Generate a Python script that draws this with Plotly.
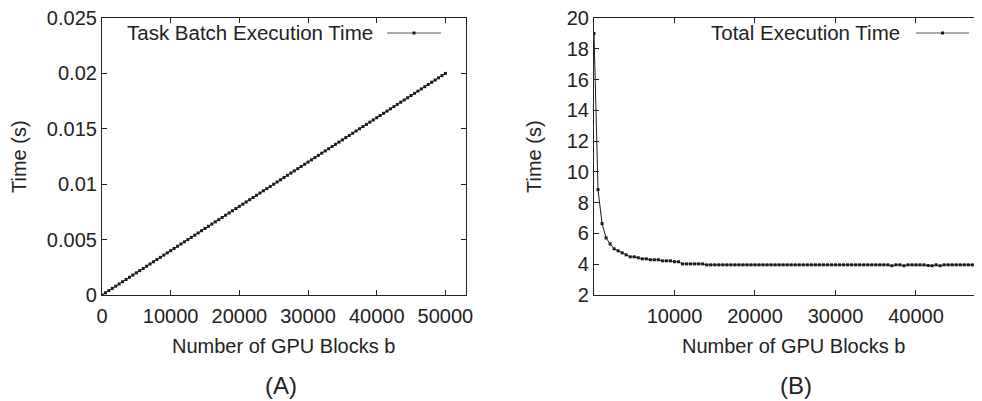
import plotly.graph_objects as go

# browser page has an 8px body margin; work in screen pixels and convert
OFF = 8
W, H = 982 - OFF, 401 - OFF

# ---------------- data ----------------
# Panel A: task batch execution time vs number of GPU blocks
A_BLOCKS = list(range(0, 50001, 500))
A_TIME = [
    0.0000, 0.0002, 0.0004, 0.0006, 0.0008, 0.0010, 0.0012, 0.0014, 0.0016, 0.0018,
    0.0020, 0.0022, 0.0024, 0.0026, 0.0028, 0.0030, 0.0032, 0.0034, 0.0036, 0.0038,
    0.0040, 0.0042, 0.0044, 0.0046, 0.0048, 0.0050, 0.0052, 0.0054, 0.0056, 0.0058,
    0.0060, 0.0062, 0.0064, 0.0066, 0.0068, 0.0070, 0.0072, 0.0074, 0.0076, 0.0078,
    0.0080, 0.0082, 0.0084, 0.0086, 0.0088, 0.0090, 0.0092, 0.0094, 0.0096, 0.0098,
    0.0100, 0.0102, 0.0104, 0.0106, 0.0108, 0.0110, 0.0112, 0.0114, 0.0116, 0.0118,
    0.0120, 0.0122, 0.0124, 0.0126, 0.0128, 0.0130, 0.0132, 0.0134, 0.0136, 0.0138,
    0.0140, 0.0142, 0.0144, 0.0146, 0.0148, 0.0150, 0.0152, 0.0154, 0.0156, 0.0158,
    0.0160, 0.0162, 0.0164, 0.0166, 0.0168, 0.0170, 0.0172, 0.0174, 0.0176, 0.0178,
    0.0180, 0.0182, 0.0184, 0.0186, 0.0188, 0.0190, 0.0192, 0.0194, 0.0196, 0.0198,
    0.0200,
]

# Panel B: total execution time vs number of GPU blocks
B_BLOCKS = [1] + list(range(500, 48001, 500))
B_TIME = [
    19.00, 8.85, 6.64, 5.71, 5.32, 5.00, 4.87, 4.74, 4.61, 4.48,
    4.48, 4.42, 4.35, 4.35, 4.29, 4.29, 4.29, 4.22, 4.22, 4.22,
    4.16, 4.16, 4.02, 4.02, 4.02, 4.02, 4.02, 4.02, 3.96, 3.96,
    3.96, 3.96, 3.96, 3.96, 3.96, 3.96, 3.96, 3.96, 3.96, 3.96,
    3.96, 3.96, 3.96, 3.96, 3.96, 3.96, 3.96, 3.96, 3.96, 3.96,
    3.96, 3.96, 3.96, 3.96, 3.96, 3.96, 3.96, 3.96, 3.96, 3.96,
    3.96, 3.96, 3.96, 3.96, 3.96, 3.96, 3.96, 3.96, 3.96, 3.96,
    3.96, 3.96, 3.96, 3.96, 3.90, 3.96, 3.96, 3.90, 3.96, 3.96,
    3.96, 3.96, 3.96, 3.92, 3.90, 3.96, 3.90, 3.96, 3.96, 3.96,
    3.96, 3.96, 3.96, 3.96, 3.96, 3.96, 3.96,
]

A_XTICKS = [0, 10000, 20000, 30000, 40000, 50000]
A_YTICKS = [0, 0.005, 0.01, 0.015, 0.02, 0.025]
A_YTICKTEXT = ["0", "0.005", "0.01", "0.015", "0.02", "0.025"]
B_XTICKS = [10000, 20000, 30000, 40000]
B_YTICKS = [2, 4, 6, 8, 10, 12, 14, 16, 18, 20]

# ---------------- style ----------------
FONT = "Liberation Sans, Arial, sans-serif"
TXT = "#222222"
LINE = "#1a1a1a"
FS = 20

def px_x(x):
    return (x - OFF) / W

def px_y(y):
    return 1 - (y - OFF) / H

fig = go.Figure()

fig.add_trace(go.Scatter(
    x=A_BLOCKS, y=A_TIME, mode="lines+markers", name="Task Batch Execution Time",
    line=dict(color=LINE, width=1), marker=dict(symbol="square", size=3, color=LINE),
    xaxis="x", yaxis="y", showlegend=False,
))
fig.add_trace(go.Scatter(
    x=B_BLOCKS, y=B_TIME, mode="lines+markers", name="Total Execution Time",
    line=dict(color=LINE, width=1), marker=dict(symbol="square", size=3, color=LINE),
    xaxis="x2", yaxis="y2", showlegend=False,
))

A_L, A_R = 102, 466
B_L = 594
TOP, BOT = 18, 295

axis_common = dict(
    showline=True, linecolor=TXT, linewidth=1.2,
    ticks="inside", ticklen=5, tickwidth=1, tickcolor=TXT,
    showgrid=False, zeroline=False, automargin=False,
    ticklabeloverflow="allow",
    tickfont=dict(family=FONT, size=FS, color=TXT),
)

fig.update_layout(
    template="none",
    width=W, height=H,
    margin=dict(l=0, r=0, t=0, b=0, pad=0),
    paper_bgcolor="white", plot_bgcolor="white",
    xaxis=dict(domain=[px_x(A_L), px_x(A_R)], range=[0, 53000], anchor="y",
               tickvals=A_XTICKS, ticktext=[str(v) for v in A_XTICKS],
               mirror="ticks", ticklabelstandoff=3, **axis_common),
    yaxis=dict(domain=[px_y(BOT), px_y(TOP)], range=[0, 0.025], anchor="x",
               tickvals=A_YTICKS, ticktext=A_YTICKTEXT,
               mirror="ticks", **axis_common),
    xaxis2=dict(domain=[px_x(B_L), 1.0], range=[1, 48200], anchor="y2",
                tickvals=B_XTICKS, ticktext=[str(v) for v in B_XTICKS],
                mirror="ticks", ticklabelstandoff=3, **axis_common),
    yaxis2=dict(domain=[px_y(BOT), px_y(TOP)], range=[2, 20], anchor="x2",
                tickvals=B_YTICKS, ticktext=[str(v) for v in B_YTICKS],
                mirror=False, **axis_common),
)

ann = []
def text(x, y, s, size=FS, angle=0, xanchor="center"):
    ann.append(dict(x=px_x(x), y=px_y(y), xref="paper", yref="paper", text=s,
                    showarrow=False, textangle=angle, xanchor=xanchor, yanchor="middle",
                    font=dict(family=FONT, size=size, color=TXT)))

text(19, 157, "Time (s)", angle=-90)
text(534, 157, "Time (s)", angle=-90)
text(283, 346, "Number of GPU Blocks b")
text(793, 346, "Number of GPU Blocks b")
text(281, 385, "(A)", size=24)
text(796, 385, "(B)", size=24)
text(375, 33, "Task Batch Execution Time", size=20.5, xanchor="right")
text(902, 33, "Total Execution Time", size=20.5, xanchor="right")
fig.update_layout(annotations=ann)

shapes = []
def legend_sample(x0, x1, y):
    shapes.append(dict(type="line", xref="paper", yref="paper",
                       x0=px_x(x0), x1=px_x(x1), y0=px_y(y), y1=px_y(y),
                       line=dict(color="#555555", width=1)))
    xm = (x0 + x1) / 2
    shapes.append(dict(type="rect", xref="paper", yref="paper",
                       x0=px_x(xm - 1.5), x1=px_x(xm + 1.5), y0=px_y(y + 1.5), y1=px_y(y - 1.5),
                       line=dict(width=0), fillcolor=LINE))

legend_sample(387, 441, 33)
legend_sample(916, 969, 33)
fig.update_layout(shapes=shapes)

fig.write_html("out.html")
